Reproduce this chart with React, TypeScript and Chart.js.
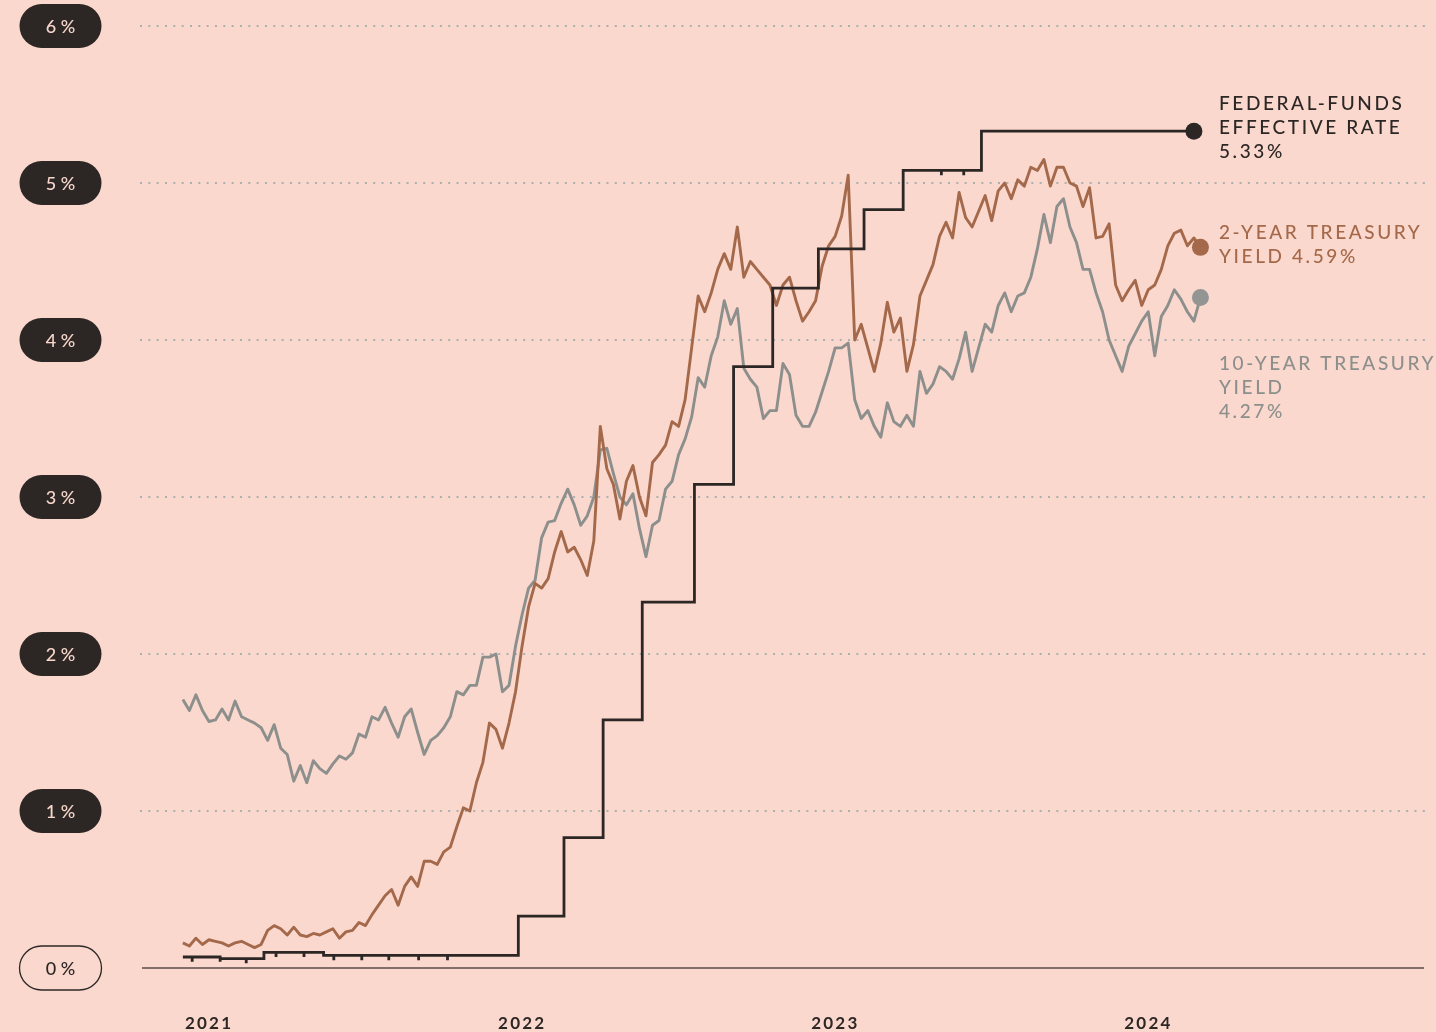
import React, { useEffect, useRef } from "react";
import { Chart, registerables } from "chart.js";

Chart.register(...registerables);

// ---------------- data ----------------
const SERIES_START = "2021-03-22"; // first weekly observation
const WEEK_STEP_DAYS = 7;

const TEN_YEAR_YIELD = [
  1.71, 1.64, 1.74, 1.64, 1.57, 1.58, 1.65, 1.58, 1.70, 1.60,
  1.58, 1.56, 1.53, 1.45, 1.55, 1.40, 1.36, 1.19, 1.29, 1.18,
  1.32, 1.27, 1.24, 1.30, 1.35, 1.33, 1.37, 1.49, 1.47, 1.60,
  1.58, 1.66, 1.56, 1.47, 1.60, 1.65, 1.50, 1.36, 1.45, 1.48,
  1.53, 1.60, 1.76, 1.74, 1.80, 1.80, 1.98, 1.98, 2.00, 1.76,
  1.80, 2.05, 2.25, 2.42, 2.47, 2.74, 2.84, 2.85, 2.96, 3.05,
  2.95, 2.82, 2.88, 3.00, 3.30, 3.31, 3.15, 3.00, 2.95, 3.02,
  2.80, 2.62, 2.82, 2.85, 3.05, 3.10, 3.27, 3.37, 3.51, 3.76,
  3.70, 3.90, 4.02, 4.25, 4.10, 4.20, 3.82, 3.75, 3.70, 3.50,
  3.55, 3.55, 3.85, 3.78, 3.52, 3.45, 3.45, 3.54, 3.67, 3.80,
  3.95, 3.95, 3.98, 3.62, 3.50, 3.55, 3.45, 3.38, 3.60, 3.48,
  3.45, 3.52, 3.45, 3.80, 3.66, 3.72, 3.83, 3.80, 3.75, 3.88,
  4.05, 3.80, 3.95, 4.10, 4.05, 4.22, 4.30, 4.18, 4.28, 4.30,
  4.40, 4.58, 4.80, 4.62, 4.85, 4.90, 4.72, 4.62, 4.45, 4.45,
  4.30, 4.18, 4.00, 3.90, 3.80, 3.96, 4.04, 4.12, 4.18, 3.90,
  4.15, 4.22, 4.32, 4.26, 4.18, 4.12, 4.27,
];

const TWO_YEAR_YIELD = [
  0.16, 0.14, 0.19, 0.15, 0.18, 0.17, 0.16, 0.14, 0.16, 0.17,
  0.15, 0.13, 0.15, 0.24, 0.27, 0.25, 0.21, 0.26, 0.21, 0.20,
  0.22, 0.21, 0.23, 0.25, 0.19, 0.23, 0.24, 0.29, 0.27, 0.34,
  0.40, 0.46, 0.50, 0.40, 0.52, 0.58, 0.52, 0.68, 0.68, 0.66,
  0.74, 0.77, 0.90, 1.02, 1.00, 1.18, 1.31, 1.56, 1.52, 1.40,
  1.56, 1.76, 2.05, 2.30, 2.45, 2.42, 2.48, 2.65, 2.78, 2.65,
  2.68, 2.60, 2.50, 2.72, 3.45, 3.18, 3.08, 2.86, 3.10, 3.20,
  3.00, 2.88, 3.22, 3.27, 3.33, 3.48, 3.45, 3.62, 3.95, 4.28,
  4.18, 4.30, 4.45, 4.55, 4.45, 4.72, 4.40, 4.50, 4.45, 4.40,
  4.35, 4.22, 4.35, 4.40, 4.25, 4.12, 4.18, 4.25, 4.47, 4.60,
  4.66, 4.79, 5.05, 4.00, 4.10, 3.95, 3.80, 3.98, 4.24, 4.05,
  4.14, 3.80, 3.97, 4.28, 4.38, 4.48, 4.66, 4.75, 4.65, 4.94,
  4.78, 4.72, 4.82, 4.92, 4.76, 4.95, 5.00, 4.90, 5.02, 4.98,
  5.10, 5.08, 5.15, 4.98, 5.10, 5.10, 5.00, 4.98, 4.85, 4.97,
  4.65, 4.66, 4.74, 4.35, 4.25, 4.32, 4.38, 4.22, 4.32, 4.35,
  4.45, 4.60, 4.68, 4.70, 4.60, 4.65, 4.59,
];

// Effective fed-funds rate: a new level from each date (repeated dates = one-day dips)
const FED_FUNDS_DATES = [
  "2021-03-22",
  "2021-04-01", "2021-04-01",
  "2021-05-01", "2021-05-01",
  "2021-05-29", "2021-05-29",
  "2021-06-17",
  "2021-06-30", "2021-06-30",
  "2021-07-30", "2021-07-30",
  "2021-08-20",
  "2021-08-31", "2021-08-31",
  "2021-09-30", "2021-09-30",
  "2021-10-29", "2021-10-29",
  "2021-11-30", "2021-11-30",
  "2021-12-31", "2021-12-31",
  "2022-03-17",
  "2022-05-05",
  "2022-06-16",
  "2022-07-28",
  "2022-09-22",
  "2022-11-03",
  "2022-12-15",
  "2023-02-02",
  "2023-03-23",
  "2023-05-04",
  "2023-06-14", "2023-06-14",
  "2023-07-08", "2023-07-08",
  "2023-07-27",
  "2024-03-11",
];
const FED_FUNDS_RATES = [
  0.07,
  0.04, 0.07,
  0.04, 0.06,
  0.03, 0.06,
  0.10,
  0.07, 0.10,
  0.07, 0.10,
  0.08,
  0.05, 0.08,
  0.05, 0.08,
  0.05, 0.08,
  0.05, 0.08,
  0.05, 0.08,
  0.33,
  0.83,
  1.58,
  2.33,
  3.08,
  3.83,
  4.33,
  4.58,
  4.83,
  5.08,
  5.05, 5.08,
  5.05, 5.08,
  5.33,
  5.33,
];

const Y_TICKS = [0, 1, 2, 3, 4, 5, 6];
const X_TICK_LABELS = ["2021", "2022", "2023", "2024"];
const X_TICK_DATES = ["2021-04-18", "2022-03-20", "2023-02-19", "2024-01-21"];
const X_DOMAIN = ["2021-02-04", "2024-11-14"];

const FED_LABEL = ["FEDERAL-FUNDS", "EFFECTIVE RATE", "5.33%"];
const TWO_YEAR_LABEL = ["2-YEAR TREASURY", "YIELD 4.59%"];
const TEN_YEAR_LABEL = ["10-YEAR TREASURY", "YIELD", "4.27%"];

// ---------------- style ----------------
const BG = "#fbd8ce";
const DARK = "#2c2725";
const BROWN = "#a4694a";
const GRAY = "#8c8f8c";
const GRID = "#a9b1ae";
const PILL_TEXT = "#f7d6cb";
const FONT = "Lato, 'Open Sans', sans-serif";

const BASE = Date.UTC(2021, 0, 1);
const dayOf = (iso: string) => {
  const [y, m, d] = iso.split("-").map(Number);
  return (Date.UTC(y, m - 1, d) - BASE) / 86400000;
};

function spacedText(ctx: CanvasRenderingContext2D, text: string, x: number, y: number, spacing: number, align: "left" | "center") {
  (ctx as any).letterSpacing = spacing + "px";
  const w = ctx.measureText(text).width;
  const startX = align === "center" ? x - (w - spacing) / 2 : x;
  ctx.textAlign = "left";
  ctx.fillText(text, startX, y);
  (ctx as any).letterSpacing = "0px";
}

const decorPlugin = {
  id: "decor",
  beforeDraw(chart: any) {
    const ctx = chart.ctx as CanvasRenderingContext2D;
    ctx.save();
    ctx.fillStyle = BG;
    ctx.fillRect(0, 0, chart.width, chart.height);
    ctx.restore();
  },
  beforeDatasetsDraw(chart: any) {
    const ctx = chart.ctx as CanvasRenderingContext2D;
    const y = chart.scales.y.getPixelForValue(0);
    const { left, right } = chart.chartArea;
    ctx.save();
    ctx.strokeStyle = "#5a4c47";
    ctx.lineWidth = 1.5;
    ctx.beginPath();
    ctx.moveTo(left + 2, y);
    ctx.lineTo(right - 1, y);
    ctx.stroke();
    ctx.restore();
  },
  afterDraw(chart: any) {
    const ctx = chart.ctx as CanvasRenderingContext2D;
    const ys = chart.scales.y;
    const xs = chart.scales.x;
    ctx.save();
    // y-axis pills
    Y_TICKS.forEach((v) => {
      const cy = ys.getPixelForValue(v);
      const cx = 60.5, w = 82, h = 44;
      ctx.beginPath();
      (ctx as any).roundRect(cx - w / 2, cy - h / 2, w, h, h / 2);
      if (v === 0) {
        ctx.strokeStyle = DARK;
        ctx.lineWidth = 1.3;
        ctx.stroke();
        ctx.fillStyle = DARK;
      } else {
        ctx.fillStyle = DARK;
        ctx.fill();
        ctx.fillStyle = PILL_TEXT;
      }
      ctx.font = `500 18px ${FONT}`;
      ctx.textBaseline = "middle";
      spacedText(ctx, `${v}%`, cx, cy + 1, 4.5, "center");
    });
    // x-axis year labels
    ctx.fillStyle = DARK;
    ctx.font = `bold 17px ${FONT}`;
    ctx.textBaseline = "middle";
    X_TICK_LABELS.forEach((lab, i) => {
      const px = xs.getPixelForValue(dayOf(X_TICK_DATES[i]));
      spacedText(ctx, lab, px, 1024, 2.2, "center");
    });
    // end labels
    const endY = (dsIndex: number) => {
      const meta = chart.getDatasetMeta(dsIndex);
      return meta.data[meta.data.length - 1].y;
    };
    const lx = 1219;
    ctx.font = `500 19px ${FONT}`;
    ctx.textBaseline = "middle";
    const fy = endY(0);
    ctx.fillStyle = DARK;
    FED_LABEL.forEach((t, i) => spacedText(ctx, t, lx, fy - 27 + i * 24, 2.6, "left"));
    const ty = endY(1);
    ctx.fillStyle = BROWN;
    TWO_YEAR_LABEL.forEach((t, i) => spacedText(ctx, t, lx, ty - 14 + i * 24, 2.6, "left"));
    const gy = endY(2);
    ctx.fillStyle = GRAY;
    TEN_YEAR_LABEL.forEach((t, i) => spacedText(ctx, t, lx, gy + 66 + i * 24, 2.6, "left"));
    ctx.restore();
  },
};

export default function App() {
  const canvasRef = useRef<HTMLCanvasElement | null>(null);

  useEffect(() => {
    document.body.style.margin = "0";
    document.body.style.background = BG;
    const canvas = canvasRef.current;
    if (!canvas) return;
    const start = dayOf(SERIES_START);
    const weekly = (arr: number[]) => arr.map((v, i) => ({ x: start + i * WEEK_STEP_DAYS, y: v }));
    const fed = FED_FUNDS_DATES.map((d, i) => ({ x: dayOf(d), y: FED_FUNDS_RATES[i] }));
    const lastDot = (n: number, r: number) => (c: any) => (c.dataIndex === n - 1 ? r : 0);

    const chart = new Chart(canvas, {
      type: "line",
      data: {
        datasets: [
          {
            label: "Federal-funds effective rate",
            data: fed,
            stepped: "before",
            borderColor: DARK,
            borderWidth: 2.8,
            pointRadius: lastDot(fed.length, 8.5),
            pointBackgroundColor: DARK,
            pointBorderWidth: 0,
            pointHoverRadius: 0,
          },
          {
            label: "2-year Treasury yield",
            data: weekly(TWO_YEAR_YIELD),
            borderColor: BROWN,
            borderWidth: 2.9,
            borderJoinStyle: "round",
            pointRadius: lastDot(TWO_YEAR_YIELD.length, 8.5),
            pointBackgroundColor: BROWN,
            pointBorderWidth: 0,
            pointHoverRadius: 0,
          },
          {
            label: "10-year Treasury yield",
            data: weekly(TEN_YEAR_YIELD),
            borderColor: GRAY,
            borderWidth: 2.9,
            borderJoinStyle: "round",
            pointRadius: lastDot(TEN_YEAR_YIELD.length, 8.5),
            pointBackgroundColor: "#939593",
            pointBorderWidth: 0,
            pointHoverRadius: 0,
          },
        ],
      },
      options: {
        animation: false,
        responsive: false,
        maintainAspectRatio: false,
        events: [],
        layout: { padding: { left: 140, right: 11, top: 26, bottom: 64 } },
        plugins: { legend: { display: false }, tooltip: { enabled: false } },
        scales: {
          x: {
            type: "linear",
            display: false,
            min: dayOf(X_DOMAIN[0]),
            max: dayOf(X_DOMAIN[1]),
          },
          y: {
            min: 0,
            max: 6,
            ticks: { display: false, stepSize: 1 },
            grid: {
              drawTicks: false,
              lineWidth: 2,
              color: (c: any) => (c.tick && c.tick.value === 0 ? "rgba(0,0,0,0)" : GRID),
            },
            border: { display: false, dash: [2, 6.33] },
          },
        },
      },
      plugins: [decorPlugin],
    } as any);
    return () => chart.destroy();
  }, []);

  return (
    <div style={{ width: 1436, height: 1032, overflow: "hidden", background: BG }}>
      <canvas ref={canvasRef} width={1436} height={1032} style={{ display: "block" }} />
    </div>
  );
}
